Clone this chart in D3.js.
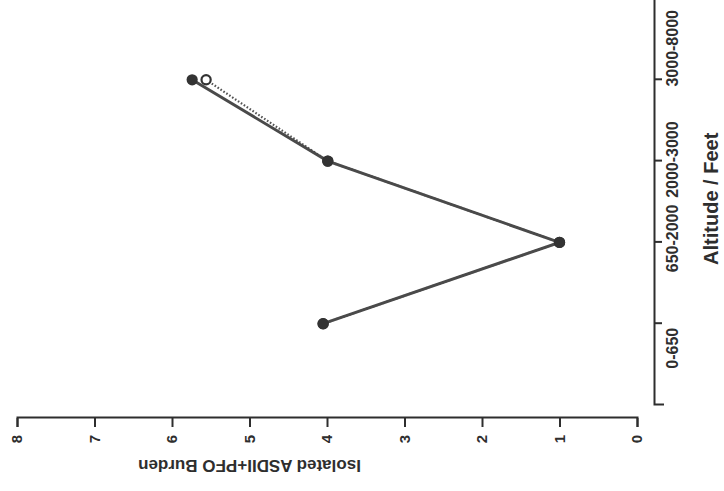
<!DOCTYPE html>
<html><head><meta charset="utf-8">
<script src="https://cdn.jsdelivr.net/npm/d3@7"></script>
<style>
html,body{margin:0;padding:0;background:#fff}
svg{display:block}
text{font-family:"Liberation Sans",Arial,Helvetica,sans-serif;font-weight:bold}
</style>
</head><body>
<script>
// Altitude groups and isolated ASD II + PFO burden per group
const altitudes = ["0-650", "650-2000", "2000-3000", "3000-8000"];
const burdenFilled = [4.05, 1.0, 3.99, 5.74];
const burdenOpen = [4.05, 1.0, 3.99, 5.56];
const burdenTicks = [0, 1, 2, 3, 4, 5, 6, 7, 8];

const W = 724, H = 491;
const svg = d3.select("body").append("svg").attr("width", W).attr("height", H);

// The plot is laid out upright in a 491 x 724 frame, then turned a quarter turn.
const g = svg.append("g").attr("transform", `translate(0,${H}) rotate(-90)`);

const x = d3.scaleLinear().domain([0, 5]).range([86, 492.5]);
const y = d3.scaleLinear().domain([0, 8]).range([637, 17]);

const ink = "#2e2e2e";

// Altitude axis
const xAxis = g.append("g")
  .attr("transform", "translate(0,654)")
  .attr("color", ink)
  .call(d3.axisBottom(x)
    .tickValues([1, 2, 3, 4])
    .tickFormat(i => altitudes[i - 1])
    .tickSize(8).tickSizeOuter(10).tickPadding(5));
xAxis.selectAll("path,line").attr("stroke-width", 2);
// category labels sit staggered along the axis rather than centred on each tick
const labelNudge = [-25, 3.5, 1, 31];
xAxis.selectAll(".tick text")
  .attr("x", (d, i) => labelNudge[i])
  .attr("font-size", 16).attr("fill", ink);

// Burden axis
const yAxis = g.append("g")
  .attr("transform", "translate(73,0)")
  .attr("color", ink)
  .call(d3.axisLeft(y)
    .tickValues(burdenTicks)
    .tickFormat(d3.format("d"))
    .tickSize(9).tickSizeOuter(9).tickPadding(8));
yAxis.selectAll("path,line").attr("stroke-width", 2);
yAxis.selectAll("text").attr("font-size", 15).attr("fill", ink);

// Axis titles
g.append("text")
  .attr("x", x(2.5) + 3).attr("y", 718)
  .attr("text-anchor", "middle")
  .attr("font-size", 20).attr("fill", ink)
  .text("Altitude / Feet");

g.append("text")
  .attr("transform", `translate(31,${y(5)}) rotate(-90)`)
  .attr("text-anchor", "middle")
  .attr("font-size", 17).attr("fill", ink)
  .text("Isolated ASDII+PFO Burden");

const line = d3.line().x((d, i) => x(i + 1)).y(d => y(d));

// Open-circle series (dotted)
g.append("path")
  .datum(burdenOpen)
  .attr("d", line)
  .attr("fill", "none")
  .attr("stroke", "#555")
  .attr("stroke-width", 2.2)
  .attr("stroke-dasharray", "1.6,1.9");

// Filled-circle series (solid)
g.append("path")
  .datum(burdenFilled)
  .attr("d", line)
  .attr("fill", "none")
  .attr("stroke", "#4a4a4a")
  .attr("stroke-width", 3);

g.append("g").selectAll("circle")
  .data(burdenOpen)
  .join("circle")
  .attr("cx", (d, i) => x(i + 1))
  .attr("cy", d => y(d))
  .attr("r", 4.6)
  .attr("fill", "#fff")
  .attr("stroke", "#333")
  .attr("stroke-width", 2.2);

g.append("g").selectAll("circle")
  .data(burdenFilled)
  .join("circle")
  .attr("cx", (d, i) => x(i + 1))
  .attr("cy", d => y(d))
  .attr("r", 5.6)
  .attr("fill", "#333");
</script>
</body></html>
